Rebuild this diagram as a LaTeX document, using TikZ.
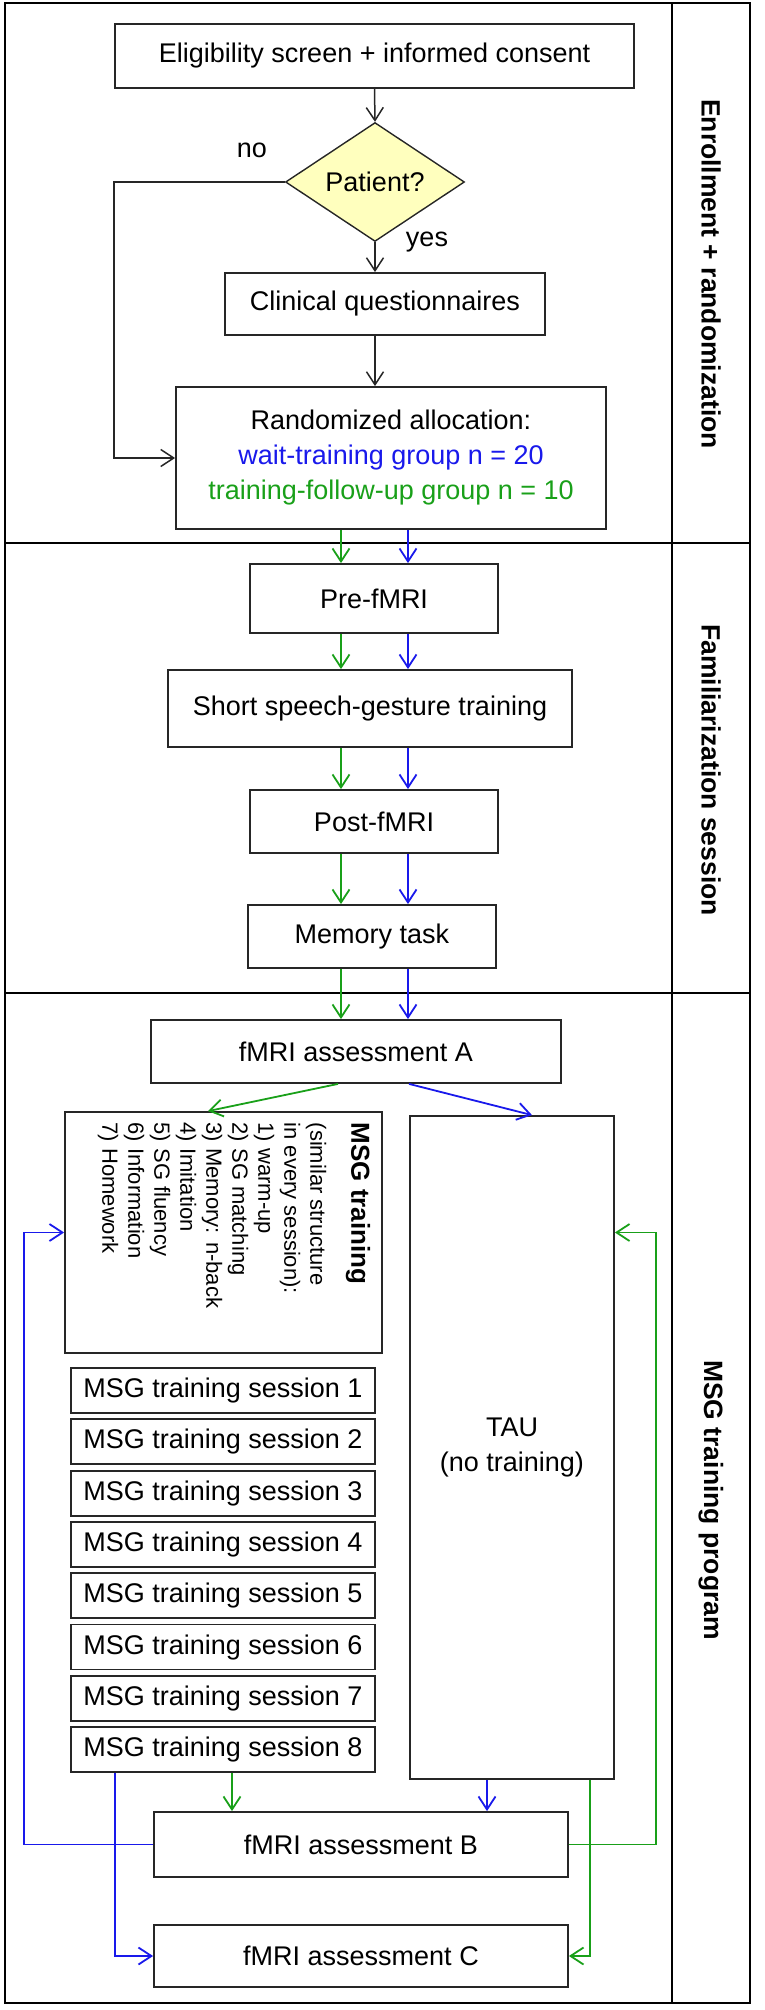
\documentclass[tikz,border=0pt]{standalone}
\usepackage{fontspec}
\setmainfont{Liberation Sans}
\usetikzlibrary{shapes.geometric,arrows.meta}

\definecolor{grpblue}{RGB}{25,25,235}
\definecolor{grpgreen}{RGB}{25,160,25}
\definecolor{qyellow}{RGB}{255,255,190}

\tikzstyle{bx}=[shape=rectangle,
                draw=black!85,
                line width=1.8pt,
                inner sep=0pt,
                align=center,
                font=\fontsize{27}{35}\selectfont]
\tikzstyle{sess}=[bx,
                minimum width=304pt,
                minimum height=45pt]
\tikzstyle{dm}=[shape=diamond,
                draw=black!85,
                fill=qyellow,
                line width=1.4pt,
                inner sep=0pt,
                minimum width=179pt,
                minimum height=90pt,
                font=\fontsize{27}{35}\selectfont]
\tikzstyle{lbl}=[inner sep=0pt,
                font=\fontsize{27}{35}\selectfont]
\tikzstyle{sec}=[rotate=-90,
                inner sep=0pt,
                font=\bfseries\fontsize{26.5}{32}\selectfont]

\begin{document}
\begin{tikzpicture}[x=1pt,y=-1pt,>={Straight Barb[length=13pt,width=17pt]},line width=1.5pt]
\useasboundingbox (0,0) rectangle (764,2010);

% frames
\draw[line width=2pt] (5,3) rectangle (750,543);
\draw[line width=2pt] (5,543) rectangle (750,993);
\draw[line width=2pt] (5,993) rectangle (750,2003);
\draw[line width=2pt] (672,3) -- (672,2003);

% section labels
\node[sec] (lab1) at (711,274) {Enrollment + randomization};
\node[sec] (lab2) at (711,770) {Familiarization session};
\node[sec] (lab3) at (711,1500) {MSG training program};

% enrollment
\node[bx, minimum width=519pt, minimum height=64pt] (elig) at (374.5,56) {Eligibility screen + informed consent};
\node[dm] (patient) at (375,182) {Patient?};
\node[bx, minimum width=320pt, minimum height=62pt] (clin) at (385,304) {Clinical questionnaires};
\node[bx, minimum width=430pt, minimum height=142pt] (rand) at (391,458) {Randomized allocation:\\{\color{grpblue}wait-training group n = 20}\\{\color{grpgreen}training-follow-up group n = 10}};
\node[lbl] (no) at (252,150) {no};
\node[lbl] (yes) at (427,242) {yes};

% familiarization
\node[bx, minimum width=248pt, minimum height=69pt] (pre) at (374,598.5) {Pre-fMRI};
\node[bx, minimum width=404pt, minimum height=77pt] (short) at (370,708.5) {Short speech-gesture training};
\node[bx, minimum width=248pt, minimum height=63pt] (post) at (374,821.5) {Post-fMRI};
\node[bx, minimum width=248pt, minimum height=63pt] (mem) at (372,936.5) {Memory task};

% training program
\node[bx, minimum width=410pt, minimum height=63pt] (fA) at (356,1051.5) {fMRI assessment A};
\node[bx, minimum width=317pt, minimum height=241pt] (msg) at (223.5,1232.5) {};
\node[rotate=-90, anchor=north west, align=left, inner sep=0pt, font=\fontsize{22}{26}\selectfont] (msgtxt) at (371,1122)
  {{\bfseries\fontsize{26}{26}\selectfont MSG training}\\[15pt](similar structure\\in every session):\\1) warm-up\\2) SG matching\\3) Memory: n-back\\4) Imitation\\5) SG fluency\\6) Information\\7) Homework};
\node[bx, minimum width=204pt, minimum height=663pt] (tau) at (512,1447.5) {TAU\\(no training)};

\node[sess] (s1) at (223,1390.5) {MSG training session 1};
\node[sess] (s2) at (223,1441.8) {MSG training session 2};
\node[sess] (s3) at (223,1493.1) {MSG training session 3};
\node[sess] (s4) at (223,1544.4) {MSG training session 4};
\node[sess] (s5) at (223,1595.7) {MSG training session 5};
\node[sess] (s6) at (223,1647.0) {MSG training session 6};
\node[sess] (s7) at (223,1698.3) {MSG training session 7};
\node[sess] (s8) at (223,1749.6) {MSG training session 8};

\node[bx, minimum width=414pt, minimum height=65pt] (fB) at (361,1844.5) {fMRI assessment B};
\node[bx, minimum width=414pt, minimum height=62pt] (fC) at (361,1956) {fMRI assessment C};

% arrow columns
\coordinate (gcol) at (341,0);
\coordinate (bcol) at (408,0);

% paths
\path[->, black!85] (elig.south) edge (patient.north)
          (patient.south) edge (clin.north -| patient.south)
          (clin.south -| patient.south) edge (rand.north -| patient.south);
\draw[->, black!85] (patient.west) -- (patient.west -| elig.west) |- (rand.west);

\path[->, grpgreen, line width=1.8pt] (rand.south -| gcol) edge (pre.north -| gcol)
          (pre.south -| gcol) edge (short.north -| gcol)
          (short.south -| gcol) edge (post.north -| gcol)
          (post.south -| gcol) edge (mem.north -| gcol)
          (mem.south -| gcol) edge (fA.north -| gcol)
          ([xshift=-18pt]fA.south) edge ([xshift=-15.5pt]msg.north)
          ([xshift=9pt]s8.south) edge ([xshift=9pt]s8.south |- fB.north);
\path[->, grpblue, line width=1.8pt] (rand.south -| bcol) edge (pre.north -| bcol)
          (pre.south -| bcol) edge (short.north -| bcol)
          (short.south -| bcol) edge (post.north -| bcol)
          (post.south -| bcol) edge (mem.north -| bcol)
          (mem.south -| bcol) edge (fA.north -| bcol)
          ([xshift=53pt]fA.south) edge ([xshift=20pt]tau.north)
          ([xshift=-25pt]tau.south) edge ([xshift=-25pt]tau.south |- fB.north);

\coordinate (tauin) at (tau.east |- msg.west);
\draw[->, grpgreen, line width=1.8pt] ([xshift=78pt]tau.south) |- (fC.east);
\draw[->, grpgreen, line width=1.8pt] (fB.east) -| ([xshift=41pt]tauin) -- (tauin);
\draw[->, grpblue, line width=1.8pt] ([xshift=-108pt]s8.south) |- (fC.west);
\draw[->, grpblue, line width=1.8pt] (fB.west) -| ([xshift=-40pt]msg.west) -- (msg.west);
\end{tikzpicture}
\end{document}
